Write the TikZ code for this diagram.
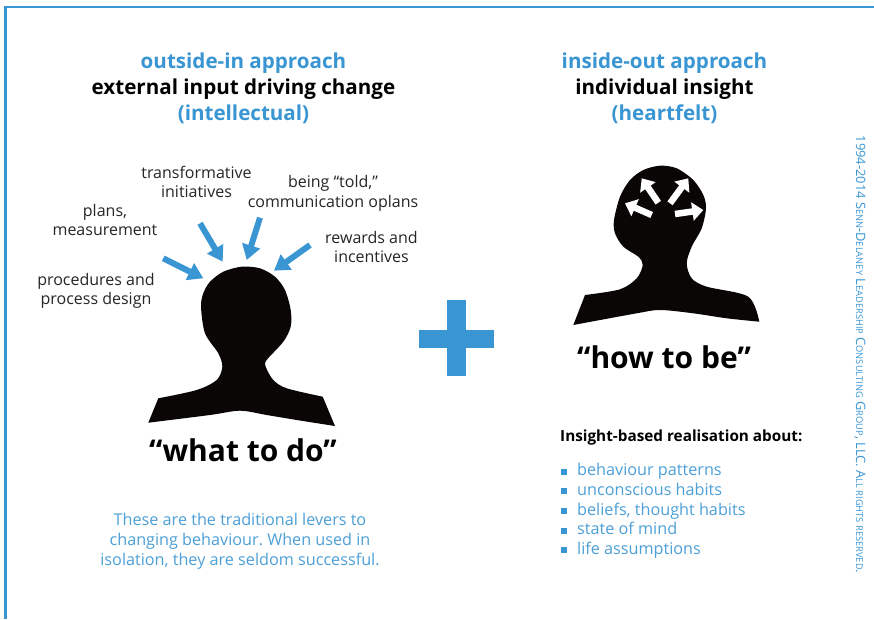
\documentclass[tikz,border=0pt]{standalone}
\usepackage{fontspec}
\setmainfont{Open Sans}
\usetikzlibrary{arrows.meta}
\definecolor{sdblue}{HTML}{3996D3}
\definecolor{headblack}{HTML}{0A0606}
\newcommand{\lowcap}[1]{{\fontsize{9.3}{10}\selectfont #1}}
\frenchspacing
\tikzset{
  heading/.style={font=\fontsize{20.6}{26}\selectfont\bfseries, align=center},
  lever/.style={font=\fontsize{16}{19.6}\selectfont, align=center, text=black!85},
  phrase/.style={font=\fontsize{30}{36}\selectfont\bfseries},
  note/.style={font=\fontsize{16.2}{19.8}\selectfont, align=center, text=sdblue!90},
  pusharrow/.style={draw=sdblue, line width=6pt, -{Triangle[length=15pt,width=18pt]}},
  innerarrow/.style={draw=white, line width=6.5pt, -{Triangle[length=11pt,width=18pt]}},
}
\begin{document}
\begin{tikzpicture}[x=1pt, y=-1pt]
    \useasboundingbox (0, 0) rectangle (874, 619);
    \fill[white] (0, 0) rectangle (874, 619);
    % frame
    \fill[sdblue] (4, 6) rectangle (874, 8);
    \fill[sdblue] (4, 6) rectangle (6.5, 619);

    % titles
    \node[heading] (titleL) at (243.5, 88) {\textcolor{sdblue}{outside-in approach}\\external input driving change\\\textcolor{sdblue}{(intellectual)}};
    \node[heading] (titleR) at (664.5, 88) {\textcolor{sdblue}{inside-out approach}\\individual insight\\\textcolor{sdblue}{(heartfelt)}};

    % left head
    \fill[headblack] (148.3, 422.7) -- (158.3, 398.3)
      -- plot[smooth] coordinates {(158.3, 398.3) (196.7, 390) (216.7, 380) (222.3, 366.7) (218.3, 353.3) (205, 333.3) (201, 306.7) (203.3, 293.3) (210, 281.7) (223.3, 271.7) (241.7, 266.7) (260, 268.3) (275, 276.7) (285, 290) (290.7, 310) (290.7, 326.7) (283.3, 341.7) (266.7, 360) (265.7, 366.7) (273.3, 380) (286.7, 388.3) (322.7, 396.7)}
      -- (335, 426)
      -- plot[smooth] coordinates {(335, 426) (296.7, 420) (266.7, 415) (240, 410.7) (210, 415) (148.3, 422.7)} -- cycle;

    % right head
    \fill[headblack] (573.3, 325) -- (585, 295)
      -- plot[smooth] coordinates {(585, 295) (620, 289.3) (636.7, 278.3) (642.7, 265) (638.3, 256.7) (623.3, 246.7) (615, 233.3) (614, 220) (620, 196.7) (630, 180) (643.3, 170) (660, 165.7) (676.7, 168.3) (693.3, 180) (703.3, 195) (706, 208.3) (701.7, 228.3) (691.7, 246.7) (686.7, 263.3) (691.7, 278.3) (706.7, 286.7) (748.3, 296.7) (759.3, 321.7)}
      -- plot[smooth] coordinates {(759.3, 321.7) (726.7, 318.3) (693.3, 313.3) (660, 310) (636.7, 313.3) (573.3, 325)} -- cycle;

    % arrows into the left head
    \coordinate (pTail) at (163.3, 258.3);
    \coordinate (pTip) at (203.3, 278.3);
    \coordinate (iTail) at (200, 223.3);
    \coordinate (iTip) at (222.7, 261.7);
    \coordinate (cTail) at (260, 217.7);
    \coordinate (cTip) at (246.7, 260);
    \coordinate (rTail) at (310, 245);
    \coordinate (rTip) at (274, 270.7);
    \draw[pusharrow] (pTail) -- (pTip);
    \draw[pusharrow] (iTail) -- (iTip);
    \draw[pusharrow] (cTail) -- (cTip);
    \draw[pusharrow] (rTail) -- (rTip);

    % arrows inside the right head
    \coordinate (aTail) at (651.7, 215);
    \coordinate (aTip) at (625, 203.3);
    \coordinate (bTail) at (658.3, 202.7);
    \coordinate (bTip) at (641.7, 178.3);
    \coordinate (dTail) at (670, 203.3);
    \coordinate (dTip) at (688.3, 178.3);
    \coordinate (eTail) at (675, 214);
    \coordinate (eTip) at (703.3, 210);
    \draw[innerarrow] (aTail) -- (aTip);
    \draw[innerarrow] (bTail) -- (bTip);
    \draw[innerarrow] (dTail) -- (dTip);
    \draw[innerarrow] (eTail) -- (eTip);

    % levers
    \node[lever] (transform) at (196.5, 182) {transformative\\initiatives};
    \node[lever] (told) at (333, 193.5) {being ``told,''\\communication oplans};
    \node[lever] (plans) at (105, 220) {plans,\\measurement};
    \node[lever] (rewards) at (371.5, 247) {rewards and\\incentives};
    \node[lever] (procedures) at (96, 291) {procedures and\\process design};

    % plus sign
    \fill[sdblue] (419, 330) rectangle (493.7, 348);
    \fill[sdblue] (447, 300) rectangle (465.7, 375.7);

    \node[phrase] (whatdo) at (243, 450) {``what to do''};
    \node[phrase] (howbe) at (664, 357.5) {``how to be''};

    \node[note] (levers) at (240, 541.5) {These are the traditional levers to\\changing behaviour. When used in\\isolation, they are seldom successful.};

    % insight list
    \node[font=\fontsize{15.3}{17}\selectfont\bfseries, anchor=west, inner sep=0pt] (insight) at (560, 438) {Insight-based realisation about:};
    \foreach \txt [count=\i] in {behaviour patterns, unconscious habits, {beliefs, thought habits}, state of mind, life assumptions} {
      \node[fill=sdblue, minimum size=6pt, inner sep=0pt] (bullet\i) at (564, 451.8 + 19.7*\i) {};
      \node[anchor=base west, inner sep=0pt, font=\fontsize{16.2}{17}\selectfont, text=sdblue!90] (item\i) at (577, 456 + 19.7*\i) {\txt};
    }

    % credit line
    \node[rotate=-90, text=sdblue, font=\fontsize{12.9}{14}\selectfont, inner sep=0pt] (credit) at (860, 354.5) {1994-2014 S\lowcap{ENN}-D\lowcap{ELANEY} L\lowcap{EADERSHIP} C\lowcap{ONSULTING} G\lowcap{ROUP}, LLC. A\lowcap{LL RIGHTS RESERVED}.};
\end{tikzpicture}
\end{document}
